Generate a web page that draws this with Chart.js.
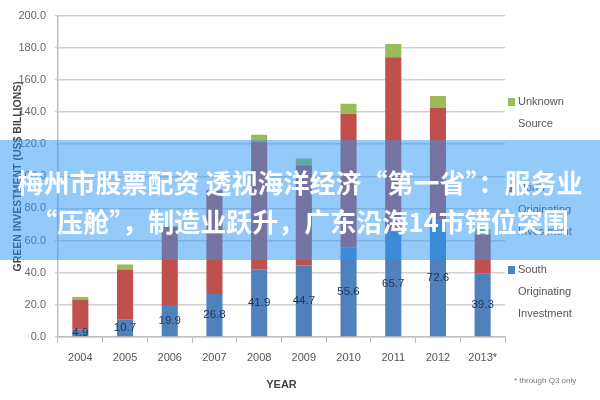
<!DOCTYPE html>
<html>
<head>
<meta charset="utf-8">
<script src="https://cdn.jsdelivr.net/npm/chart.js@4.4.0/dist/chart.umd.min.js"></script>
<style>
  html, body { margin: 0; padding: 0; background: #fff; }
  #wrap { position: relative; width: 600px; height: 400px; overflow: hidden; }
  #c { position: absolute; left: 0; top: 0; }
  #banner {
    position: absolute; left: 0; top: 140px; width: 600px; height: 120px;
    background: rgba(40, 150, 245, 0.5);
    color: #fff; font-family: "Noto Sans CJK SC", sans-serif; font-weight: bold;
    font-size: 26px; line-height: 39px; text-align: center; white-space: nowrap;
    box-sizing: border-box; padding-top: 22px;
  }
  #banner .fw { font-feature-settings: "fwid" 1; }
  #note { position: absolute; left: 514px; top: 376px; font: 8px "Liberation Sans", sans-serif; color: #777; }
</style>
</head>
<body>
<div id="wrap">
  <canvas id="c" width="600" height="400"></canvas>
  <div id="note">* through Q3 only</div>
  <div id="banner">梅州市股票配资 透视海洋经济<span class="fw">“</span>第一省<span class="fw">”</span>：服务业<br><span class="fw">“</span>压舱<span class="fw">”</span>，制造业跃升，广东沿海14市错位突围</div>
</div>
<script>
const years = ['2004','2005','2006','2007','2008','2009','2010','2011','2012','2013*'];
const southOriginating = [4.9, 10.7, 19.9, 26.8, 41.9, 44.7, 55.6, 65.7, 72.6, 39.3];
const northOriginating = [18.5, 31.3, 48.6, 64.5, 79.4, 62.1, 83.3, 108.4, 70.0, 24.7];
const unknownSource = [1.5, 3.1, 0.4, 0.4, 4.6, 4.2, 6.2, 8.3, 7.3, 3.0];
const yTicks = [0, 20, 40, 60, 80, 100, 120, 140, 160, 180, 200];
const legendLines = [['South', 'Originating', 'Investment'], ['North', 'Originating', 'Investment'], ['Unknown', 'Source']];

const FONT = '"Liberation Sans", sans-serif';

const valueLabels = {
  id: 'valueLabels',
  afterDatasetsDraw(chart) {
    const ctx = chart.ctx;
    const meta = chart.getDatasetMeta(0);
    ctx.save();
    ctx.font = '11.5px ' + FONT;
    ctx.fillStyle = '#22355a';
    ctx.textAlign = 'center';
    ctx.textBaseline = 'middle';
    meta.data.forEach((bar, i) => {
      const y = (bar.y + bar.base) / 2;
      ctx.fillText(southOriginating[i].toFixed(1), bar.x, y);
    });
    ctx.restore();
  }
};

const sideLegend = {
  id: 'sideLegend',
  afterDraw(chart) {
    const ctx = chart.ctx;
    const ds = chart.data.datasets;
    const pos = [{ y: 270 }, { y: 188 }, { y: 102 }];
    ctx.save();
    ctx.font = '11px ' + FONT;
    ctx.textBaseline = 'middle';
    ds.forEach((d, i) => {
      const y0 = pos[i].y;
      ctx.fillStyle = d.backgroundColor;
      ctx.fillRect(508, y0 - 4, 7, 8);
      ctx.fillStyle = '#555';
      legendLines[i].forEach((t, k) => ctx.fillText(t, 518, y0 + k * 22));
    });
    ctx.restore();
  }
};

new Chart(document.getElementById('c'), {
  type: 'bar',
  data: {
    labels: years,
    datasets: [
      { label: 'South Originating Investment', data: southOriginating, backgroundColor: '#4f81bd' },
      { label: 'North Originating Investment', data: northOriginating, backgroundColor: '#c0504d' },
      { label: 'Unknown Source', data: unknownSource, backgroundColor: '#9bbb59' }
    ]
  },
  options: {
    responsive: false,
    animation: false,
    layout: { padding: { top: 15, right: 95, left: 12, bottom: 4 } },
    datasets: { bar: { categoryPercentage: 1.0, barPercentage: 0.36 } },
    plugins: { legend: { display: false }, tooltip: { enabled: false } },
    scales: {
      x: {
        stacked: true,
        afterFit(scale) { scale.height = 59; },
        grid: { offset: true, drawOnChartArea: false, tickLength: 6, color: '#bfbfbf', lineWidth: 1 },
        border: { display: true, color: '#bfbfbf', width: 1.5 },
        ticks: { font: { family: FONT, size: 11 }, color: '#555', padding: 8 },
        title: { display: true, text: 'YEAR', font: { family: FONT, size: 11, weight: 'bold' }, color: '#444', padding: { top: 8, bottom: 4 } }
      },
      y: {
        stacked: true,
        min: 0, max: 200,
        afterBuildTicks(scale) { scale.ticks = yTicks.map(v => ({ value: v })); },
        afterFit(scale) { scale.width = 46; },
        grid: { color: '#d0d0d0', lineWidth: 1.5, tickLength: 3 },
        border: { display: true, color: '#bfbfbf', width: 1.5 },
        ticks: { font: { family: FONT, size: 11 }, color: '#666', padding: 9, callback: v => Number(v).toFixed(1) },
        title: { display: true, text: 'GREEN INVESTMENT (US$ BILLIONS)', font: { family: FONT, size: 10.5, weight: 'bold' }, color: '#444', padding: { top: 0, bottom: 2 } }
      }
    }
  },
  plugins: [valueLabels, sideLegend]
});
</script>
</body>
</html>
